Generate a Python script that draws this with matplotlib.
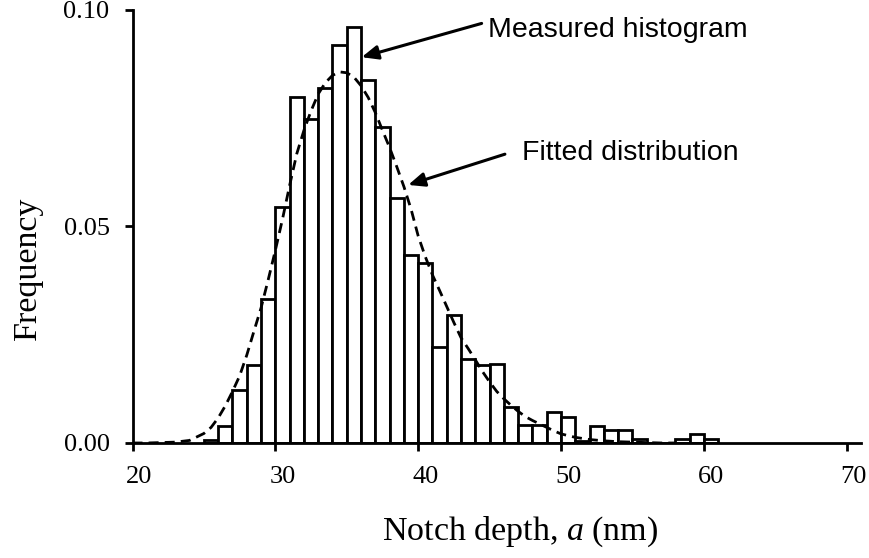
import matplotlib
matplotlib.use("Agg")
import matplotlib.pyplot as plt
from matplotlib.transforms import ScaledTranslation

plt.rcParams['font.family'] = ['Liberation Serif', 'DejaVu Serif']
plt.rcParams['mathtext.fontset'] = 'custom'
plt.rcParams['mathtext.rm'] = 'Liberation Serif'
plt.rcParams['mathtext.it'] = 'Liberation Serif:italic'

# histogram: left bin edges (nm) and relative frequency
bin_left = [25, 26, 27, 28, 29, 30, 31, 32, 33, 34, 35, 36, 37, 38, 39, 40, 41, 42,
            43, 44, 45, 46, 47, 48, 49, 50, 51, 52, 53, 54, 55, 56, 57, 58, 59, 60]
freq = [0.0008, 0.0040, 0.0123, 0.0181, 0.0333, 0.0546, 0.0800, 0.0749, 0.0819,
        0.0920, 0.0961, 0.0839, 0.0730, 0.0565, 0.0435, 0.0415, 0.0222, 0.0295,
        0.0193, 0.0181, 0.0182, 0.0082, 0.0041, 0.0041, 0.0071, 0.0060, 0.0005,
        0.0040, 0.0029, 0.0029, 0.0010, 0.0, 0.0, 0.0010, 0.0021, 0.0010]

# fitted distribution
fit_x = [20, 21, 22, 23, 24, 25, 25.5, 26, 26.5, 27, 27.5, 28, 28.5, 29, 29.5, 30,
         30.5, 31, 31.5, 32, 32.5, 33, 33.5, 34, 34.5, 35, 35.5, 36, 36.5, 37, 37.5,
         38, 38.5, 39, 39.5, 40, 40.5, 41, 41.5, 42, 42.5, 43, 43.5, 44, 44.5, 45,
         45.5, 46, 46.5, 47, 47.5, 48, 48.5, 49, 49.5, 50, 51, 52, 53, 54, 55, 56,
         57, 58]
fit_y = [0.0000, 0.0000, 0.0001, 0.0002, 0.0006, 0.0022, 0.0036, 0.0058, 0.0086,
         0.0119, 0.0155, 0.0203, 0.0258, 0.0312, 0.0377, 0.0445, 0.0517, 0.0595,
         0.0668, 0.0722, 0.0767, 0.0806, 0.0832, 0.0849, 0.0857, 0.0855, 0.0845,
         0.0825, 0.0798, 0.0763, 0.0722, 0.0682, 0.0638, 0.0592, 0.0540, 0.0478,
         0.0430, 0.0388, 0.0352, 0.0315, 0.0278, 0.0243, 0.0218, 0.0192, 0.0165,
         0.0141, 0.0119, 0.0102, 0.0087, 0.0073, 0.0061, 0.0052, 0.0044, 0.0036,
         0.0028, 0.0021, 0.0013, 0.0008, 0.0005, 0.0003, 0.0002, 0.0001, 0.0000,
         0.0000]

x_ticks = [20, 30, 40, 50, 60, 70]
y_ticks = [0.00, 0.05, 0.10]

fig = plt.figure(figsize=(8.7, 5.58), dpi=100)
ax = fig.add_axes([0.1523, 0.2061, 0.8374, 0.776])

ax.bar(bin_left, freq, width=1.0, align='edge', facecolor='white',
       edgecolor='black', linewidth=2.0, zorder=2)
ax.plot(fit_x, fit_y, color='black', linewidth=2.0,
        linestyle=(0, (3.6, 2.2)), zorder=3)

ax.set_xlim(20, 71)
ax.set_ylim(0, 0.10)
ax.set_xticks(x_ticks)
ax.set_xticklabels([str(t) for t in x_ticks])
ax.set_yticks(y_ticks)
ax.set_yticklabels([f'{t:.2f}' for t in y_ticks])

for side in ['top', 'right']:
    ax.spines[side].set_visible(False)
for side in ['left', 'bottom']:
    ax.spines[side].set_linewidth(2.0)
    ax.spines[side].set_zorder(4)
ax.tick_params(direction='out', length=5.5, width=2.0, labelsize=19, pad=11)

# labels sit a little to the right of their ticks
shift = ScaledTranslation(7 / 100, 0, fig.dpi_scale_trans)
for lab in ax.get_xticklabels():
    lab.set_transform(lab.get_transform() + shift)

ax.set_xlabel('Notch depth, $\\mathit{a}$ (nm)', fontsize=24.5)
ax.xaxis.label.set_va('baseline')
ax.xaxis.set_label_coords(0.532, -0.2235)
ax.set_ylabel('Frequency', fontsize=24.5)
ax.yaxis.label.set_va('baseline')
ax.yaxis.set_label_coords(-0.132, 0.4035)

arrow = dict(arrowstyle='-|>,head_length=0.7,head_width=0.3', color='black',
             lw=2.2, mutation_scale=14, shrinkA=0, shrinkB=0)
ax.annotate('', xy=(36.04, 0.0891), xytext=(44.44, 0.0969), arrowprops=arrow)
ax.annotate('', xy=(39.30, 0.0596), xytext=(46.07, 0.0667), arrowprops=arrow)
ax.text(44.90, 0.0938, 'Measured histogram', family='Liberation Sans',
        fontsize=20.5, va='baseline', ha='left')
ax.text(47.24, 0.0654, 'Fitted distribution', family='Liberation Sans',
        fontsize=20.5, va='baseline', ha='left')

fig.savefig('out.png', dpi=100)
